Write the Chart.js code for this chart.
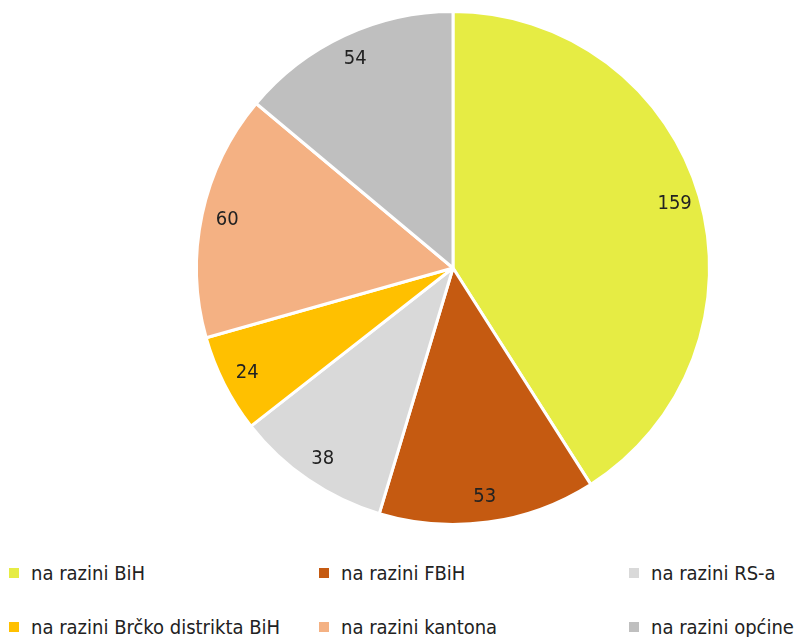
<!DOCTYPE html>
<html>
<head>
<meta charset="utf-8">
<script src="https://cdn.jsdelivr.net/npm/chart.js@4/dist/chart.umd.min.js"></script>
<style>
    html, body { margin: 0; padding: 0; background: #fff; }
    #wrap { position: relative; width: 795px; height: 637px; overflow: hidden; }
    #pie-box { position: absolute; left: 0; top: 0; width: 795px; height: 540px; }
    .leg { position: absolute; font-family: "DejaVu Sans Condensed", "Liberation Sans Narrow", sans-serif;
           font-size: 20px; color: #222; white-space: nowrap; line-height: 20px; }
    .leg i { position: absolute; left: 0; top: 5px; width: 10px; height: 10px; }
    .leg span { margin-left: 22px; }
</style>
</head>
<body>
<div id="wrap">
    <div id="pie-box"><canvas id="pie-chart"></canvas></div>
</div>
<script>
    const labels = ['na razini BiH', 'na razini FBiH', 'na razini RS-a',
                    'na razini Brčko distrikta BiH', 'na razini kantona', 'na razini općine'];
    const values = [159, 53, 38, 24, 60, 54];
    const colors = ['#E6EC44', '#C55A11', '#D9D9D9', '#FFC000', '#F4B183', '#BFBFBF'];

    const FONT = '"DejaVu Sans Condensed", "Liberation Sans Narrow", sans-serif';

    // ------------------------------------------------------
    // @Value labels
    // ------------------------------------------------------
    const valueLabels = {
        id: 'valueLabels',
        afterDatasetsDraw(chart) {
            const ctx = chart.ctx;
            const meta = chart.getDatasetMeta(0);
            ctx.save();
            ctx.font = '20px ' + FONT;
            ctx.fillStyle = '#222';
            ctx.textAlign = 'center';
            ctx.textBaseline = 'middle';
            meta.data.forEach((arc, i) => {
                const mid = (arc.startAngle + arc.endAngle) / 2;
                const r = arc.outerRadius * 0.9;
                ctx.fillText(String(values[i]), arc.x + Math.cos(mid) * r, arc.y + Math.sin(mid) * r);
            });
            ctx.restore();
        },
    };

    const pieCtx = document.getElementById('pie-chart').getContext('2d');

    new Chart(pieCtx, {
        type: 'pie',
        data: {
            labels: labels,
            datasets: [{
                data            : values,
                backgroundColor : colors,
                borderColor     : '#ffffff',
                borderWidth     : 3,
            }],
        },
        options: {
            responsive: true,
            maintainAspectRatio: false,
            animation: false,
            layout: {
                padding: { left: 195, right: 84, top: 10, bottom: 14 },
            },
            plugins: {
                legend: { display: false },
                tooltip: { enabled: false },
            },
        },
        plugins: [valueLabels],
    });

    // ------------------------------------------------------
    // @Legend (3 columns)
    // ------------------------------------------------------
    const wrap = document.getElementById('wrap');
    const colX = [9, 319, 629];
    const rowY = [563, 617];

    labels.forEach((name, i) => {
        const item = document.createElement('div');
        item.className = 'leg';
        item.style.left = colX[i % 3] + 'px';
        item.style.top = rowY[Math.floor(i / 3)] + 'px';
        item.innerHTML = '<i style="background:' + colors[i] + '"></i><span>' + name + '</span>';
        wrap.appendChild(item);
    });
</script>
</body>
</html>
